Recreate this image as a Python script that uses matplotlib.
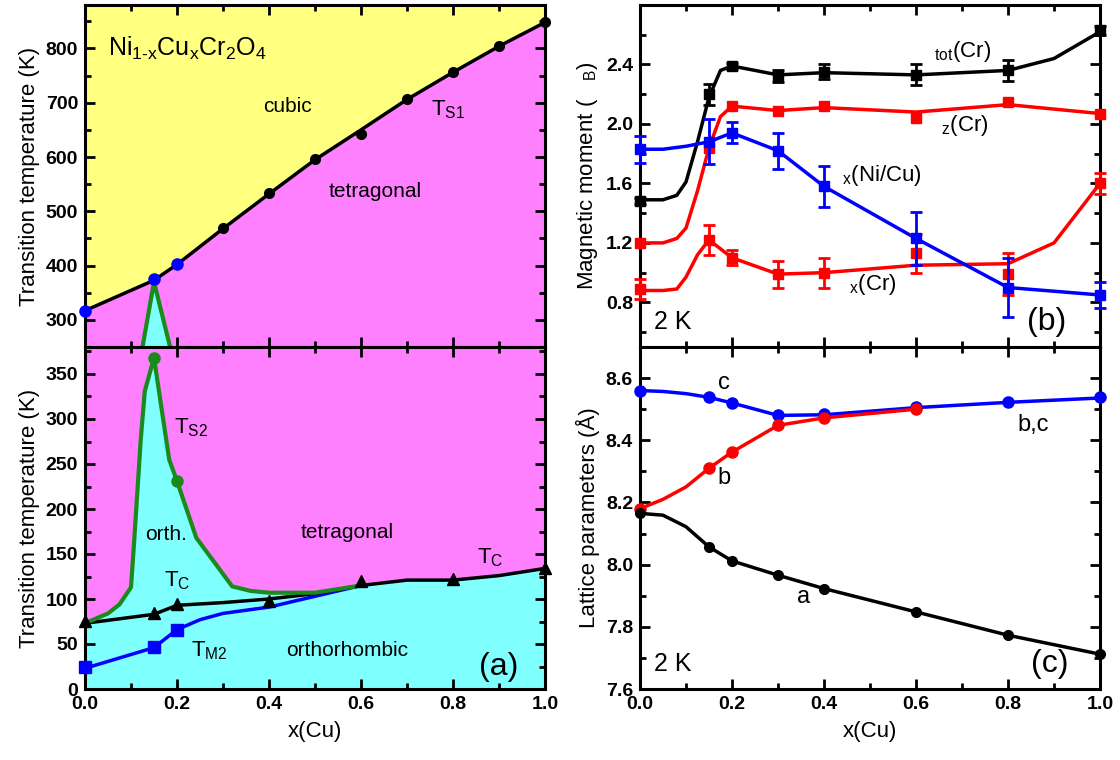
import matplotlib
matplotlib.use("Agg")
import matplotlib.pyplot as plt
from matplotlib.ticker import MultipleLocator

plt.rcParams['font.family'] = ['Liberation Sans', 'DejaVu Sans']
plt.rcParams['mathtext.default'] = 'regular'

# ---- panel (a), upper part: T_S1
ts1_line_x = [0.0, 0.15, 0.2, 0.3, 0.4, 0.5, 0.6, 0.7, 0.8, 0.9, 1.0]
ts1_line_y = [317, 373, 402, 468, 532, 595, 650, 706, 756, 804, 848]
ts1_blue_x = [0.0, 0.15, 0.2]
ts1_blue_y = [317, 375, 403]
ts1_black_x = [0.3, 0.4, 0.5, 0.6, 0.7, 0.8, 0.9, 1.0]
ts1_black_y = [470, 533, 596, 642, 706, 756, 804, 848]
tri_x = [0.125, 0.15, 0.185]
tri_y = [250, 370, 250]

# ---- panel (a), lower part
ts2_x = [0.0, 0.05, 0.075, 0.1, 0.107, 0.121, 0.13, 0.15, 0.183, 0.2, 0.242, 0.32, 0.36, 0.4, 0.5, 0.6]
ts2_y = [73, 84, 94, 113, 165, 276, 331, 368, 255, 231, 168, 114, 109, 107, 107, 115]
ts2_mx = [0.15, 0.2]
ts2_my = [368, 231]
tc_x = [0.0, 0.15, 0.2, 0.3, 0.4, 0.5, 0.6, 0.7, 0.8, 0.9, 1.0]
tc_y = [73, 83, 93, 96, 100, 106, 115, 121, 121, 126, 134]
tc_mx = [0.0, 0.15, 0.2, 0.4, 0.6, 0.8, 1.0]
tc_my = [76, 85, 95, 98, 120, 122, 135]
tm2_x = [0.0, 0.15, 0.2, 0.25, 0.3, 0.4, 0.5, 0.6]
tm2_y = [23, 46, 66, 77, 84, 91, 103, 115]
tm2_mx = [0.0, 0.15, 0.2]
tm2_my = [24, 47, 66]

# ---- panel (b): magnetic moments at 2 K
xm = [0.0, 0.15, 0.2, 0.3, 0.4, 0.6, 0.8, 1.0]
tot_line_x = [0.0, 0.05, 0.08, 0.1, 0.125, 0.15, 0.175, 0.2, 0.3, 0.4, 0.6, 0.8, 0.9, 1.0]
tot_line_y = [1.49, 1.49, 1.52, 1.61, 1.88, 2.18, 2.36, 2.39, 2.33, 2.345, 2.33, 2.36, 2.44, 2.62]
tot_y = [1.48, 2.20, 2.39, 2.32, 2.35, 2.33, 2.36, 2.63]
tot_err = [0.02, 0.07, 0.02, 0.04, 0.05, 0.07, 0.07, 0.03]
z_line_x = [0.0, 0.05, 0.08, 0.1, 0.125, 0.15, 0.175, 0.2, 0.3, 0.4, 0.6, 0.8, 1.0]
z_line_y = [1.2, 1.2, 1.23, 1.3, 1.55, 1.84, 2.05, 2.12, 2.09, 2.11, 2.08, 2.13, 2.07]
z_y = [1.2, 1.84, 2.12, 2.09, 2.12, 2.04, 2.15, 2.07]
xcr_line_x = [0.0, 0.05, 0.08, 0.1, 0.125, 0.15, 0.2, 0.3, 0.4, 0.6, 0.8, 0.9, 1.0]
xcr_line_y = [0.88, 0.88, 0.89, 0.97, 1.12, 1.22, 1.10, 0.99, 1.0, 1.05, 1.06, 1.2, 1.6]
xcr_y = [0.89, 1.22, 1.10, 0.99, 1.0, 1.13, 0.99, 1.60]
xcr_err = [0.07, 0.1, 0.05, 0.09, 0.1, 0.13, 0.14, 0.07]
ni_line_x = [0.0, 0.05, 0.1, 0.15, 0.2, 0.3, 0.4, 0.6, 0.8, 1.0]
ni_line_y = [1.83, 1.83, 1.85, 1.88, 1.94, 1.82, 1.58, 1.23, 0.9, 0.85]
ni_y = [1.83, 1.88, 1.94, 1.82, 1.58, 1.23, 0.9, 0.85]
ni_err = [0.09, 0.15, 0.07, 0.12, 0.14, 0.18, 0.2, 0.09]

# ---- panel (c): lattice parameters at 2 K
c_line_x = [0.0, 0.05, 0.1, 0.15, 0.2, 0.3, 0.4, 0.6, 0.8, 1.0]
c_line_y = [8.56, 8.557, 8.55, 8.538, 8.52, 8.48, 8.482, 8.505, 8.522, 8.536]
c_y = [8.56, 8.538, 8.52, 8.48, 8.485, 8.506, 8.523, 8.538]
b_line_x = [0.0, 0.05, 0.1, 0.15, 0.2, 0.3, 0.4, 0.6]
b_line_y = [8.18, 8.21, 8.25, 8.31, 8.362, 8.448, 8.472, 8.50]
b_mx = [0.0, 0.15, 0.2, 0.3, 0.4, 0.6]
b_y = [8.18, 8.311, 8.363, 8.448, 8.472, 8.50]
a_line_x = [0.0, 0.05, 0.1, 0.15, 0.2, 0.3, 0.4, 0.6, 0.8, 1.0]
a_line_y = [8.165, 8.159, 8.122, 8.057, 8.012, 7.966, 7.923, 7.848, 7.773, 7.712]
a_y = [8.165, 8.057, 8.012, 7.966, 7.923, 7.848, 7.773, 7.712]

x_ticks = [0.0, 0.2, 0.4, 0.6, 0.8, 1.0]
x_labels = ['0.0', '0.2', '0.4', '0.6', '0.8', '1.0']

YEL = '#ffff80'
MAG = '#ff80ff'
CYA = '#80ffff'
GRN = '#1a8a1a'

fig = plt.figure(figsize=(11.2, 7.6), dpi=100, facecolor='white')
L, W = 85 / 1120, 460 / 1120
R = 640 / 1120
top_b, top_h = 1 - 347 / 760, 342 / 760
bot_b, bot_h = 1 - 689 / 760, 342 / 760

ax1 = fig.add_axes([L, top_b, W, top_h])
ax2 = fig.add_axes([L, bot_b, W, bot_h])
ax3 = fig.add_axes([R, top_b, W, top_h])
ax4 = fig.add_axes([R, bot_b, W, bot_h])


def style(ax, yticks, ymin, show_x):
    ax.set_xlim(0, 1.0)
    ax.set_xticks(x_ticks)
    ax.xaxis.set_minor_locator(MultipleLocator(0.1))
    ax.set_yticks(yticks)
    ax.yaxis.set_minor_locator(MultipleLocator(ymin))
    ax.tick_params(which='both', direction='in', top=True, right=True, width=2)
    ax.tick_params(which='major', length=7, labelsize=14, pad=5)
    ax.tick_params(which='minor', length=4)
    for s in ax.spines.values():
        s.set_linewidth(2.2)
    if show_x:
        ax.set_xticklabels(x_labels, fontweight='bold')
        ax.set_xlabel('x(Cu)', fontsize=16, labelpad=6)
    else:
        ax.tick_params(labelbottom=False)


# upper (a)
ax1.fill_between(ts1_line_x, ts1_line_y, 880, color=YEL, lw=0)
ax1.fill_between(ts1_line_x, 250, ts1_line_y, color=MAG, lw=0)
ax1.fill(tri_x, tri_y, color=CYA, lw=0)
ax1.plot(tri_x, tri_y, color=GRN, lw=3)
ax1.plot(ts1_line_x, ts1_line_y, color='black', lw=2.5)
ax1.plot(ts1_black_x, ts1_black_y, 'o', color='black', ms=7, clip_on=False)
ax1.plot(ts1_blue_x, ts1_blue_y, 'o', color='blue', ms=8, clip_on=False, zorder=5)
ax1.set_ylim(250, 880)
yt1 = [300, 400, 500, 600, 700, 800]
style(ax1, yt1, 50, False)
ax1.set_yticklabels([str(v) for v in yt1], fontweight='bold')
ax1.set_ylabel('Transition temperature (K)', fontsize=16)
ax1.text(0.05, 800, 'Ni$_{1\u2010x}$Cu$_x$Cr$_2$O$_4$', fontsize=18, va='center')
ax1.text(0.44, 693, 'cubic', fontsize=15, ha='center', va='center')
ax1.text(0.79, 687, 'T$_{S1}$', fontsize=16, ha='center', va='center')
ax1.text(0.63, 537, 'tetragonal', fontsize=15, ha='center', va='center')

# lower (a)
ax2.set_facecolor(MAG)
fill_x = ts2_x + tc_x[7:]
fill_y = ts2_y + tc_y[7:]
ax2.fill_between(fill_x, 0, fill_y, color=CYA, lw=0)
ax2.plot(tm2_x, tm2_y, color='blue', lw=2.5)
ax2.plot(tm2_mx, tm2_my, 's', color='blue', ms=8, clip_on=False, zorder=5)
ax2.plot(tc_x, tc_y, color='black', lw=2.5)
ax2.plot(tc_mx, tc_my, '^', color='black', ms=8, clip_on=False, zorder=5)
ax2.plot(ts2_x, ts2_y, color=GRN, lw=3)
ax2.plot(ts2_mx, ts2_my, 'o', color=GRN, ms=8, zorder=5)
ax2.set_ylim(0, 380)
yt2 = [0, 50, 100, 150, 200, 250, 300, 350]
style(ax2, yt2, 25, True)
ax2.set_yticklabels([str(v) for v in yt2], fontweight='bold')
ax2.set_ylabel('Transition temperature (K)', fontsize=16)
ax2.text(0.23, 290, 'T$_{S2}$', fontsize=16, ha='center', va='center')
ax2.text(0.177, 172, 'orth.', fontsize=15, ha='center', va='center')
ax2.text(0.57, 174, 'tetragonal', fontsize=15, ha='center', va='center')
ax2.text(0.88, 146, 'T$_C$', fontsize=16, ha='center', va='center')
ax2.text(0.2, 120, 'T$_C$', fontsize=16, ha='center', va='center')
ax2.text(0.27, 42, 'T$_{M2}$', fontsize=16, ha='center', va='center')
ax2.text(0.57, 43, 'orthorhombic', fontsize=15, ha='center', va='center')
ax2.text(0.9, 24, '(a)', fontsize=23, ha='center', va='center')

# (b)
ax3.plot(tot_line_x, tot_line_y, color='black', lw=2.5)
ax3.errorbar(xm, tot_y, yerr=tot_err, fmt='s', color='black', ms=7, capsize=4,
             elinewidth=2, capthick=2, clip_on=False, zorder=5)
ax3.plot(z_line_x, z_line_y, color='red', lw=2.5)
ax3.plot(xm, z_y, 's', color='red', ms=7, clip_on=False, zorder=5)
ax3.plot(xcr_line_x, xcr_line_y, color='red', lw=2.5)
ax3.errorbar(xm, xcr_y, yerr=xcr_err, fmt='s', color='red', ms=7, capsize=4,
             elinewidth=2, capthick=2, clip_on=False, zorder=5)
ax3.plot(ni_line_x, ni_line_y, color='blue', lw=2.5)
ax3.errorbar(xm, ni_y, yerr=ni_err, fmt='s', color='blue', ms=7, capsize=4,
             elinewidth=2, capthick=2, clip_on=False, zorder=6)
ax3.set_ylim(0.5, 2.8)
yt3 = [0.8, 1.2, 1.6, 2.0, 2.4]
style(ax3, yt3, 0.2, False)
ax3.set_yticklabels(['%.1f' % v for v in yt3], fontweight='bold')
ax3.set_ylabel('Magnetic moment (   $_B$)', fontsize=16)
ax3.text(0.64, 2.49, '$_{tot}$(Cr)', fontsize=16, va='center')
ax3.text(0.655, 1.99, '$_z$(Cr)', fontsize=16, va='center')
ax3.text(0.44, 1.65, '$_x$(Ni/Cu)', fontsize=16, va='center')
ax3.text(0.455, 0.92, '$_x$(Cr)', fontsize=16, va='center')
ax3.text(0.03, 0.67, '2 K', fontsize=18, va='center')
ax3.text(0.885, 0.67, '(b)', fontsize=23, ha='center', va='center')

# (c)
ax4.plot(c_line_x, c_line_y, color='blue', lw=2.5, zorder=4)
ax4.plot(xm, c_y, 'o', color='blue', ms=8, clip_on=False, zorder=5)
ax4.plot(b_line_x, b_line_y, color='red', lw=2.5, zorder=4)
ax4.plot(b_mx, b_y, 'o', color='red', ms=8, clip_on=False, zorder=5)
ax4.plot(a_line_x, a_line_y, color='black', lw=2.5, zorder=4)
ax4.plot(xm, a_y, 'o', color='black', ms=7, clip_on=False, zorder=5)
ax4.set_ylim(7.6, 8.7)
yt4 = [7.6, 7.8, 8.0, 8.2, 8.4, 8.6]
style(ax4, yt4, 0.1, True)
ax4.set_yticklabels(['%.1f' % v for v in yt4], fontweight='bold')
ax4.set_ylabel('Lattice parameters (Å)', fontsize=16)
ax4.text(0.183, 8.585, 'c', fontsize=17, ha='center', va='center')
ax4.text(0.183, 8.28, 'b', fontsize=17, ha='center', va='center')
ax4.text(0.355, 7.895, 'a', fontsize=17, ha='center', va='center')
ax4.text(0.855, 8.45, 'b,c', fontsize=17, ha='center', va='center')
ax4.text(0.03, 7.68, '2 K', fontsize=18, va='center')
ax4.text(0.89, 7.68, '(c)', fontsize=23, ha='center', va='center')

fig.savefig('out.png', dpi=100)
